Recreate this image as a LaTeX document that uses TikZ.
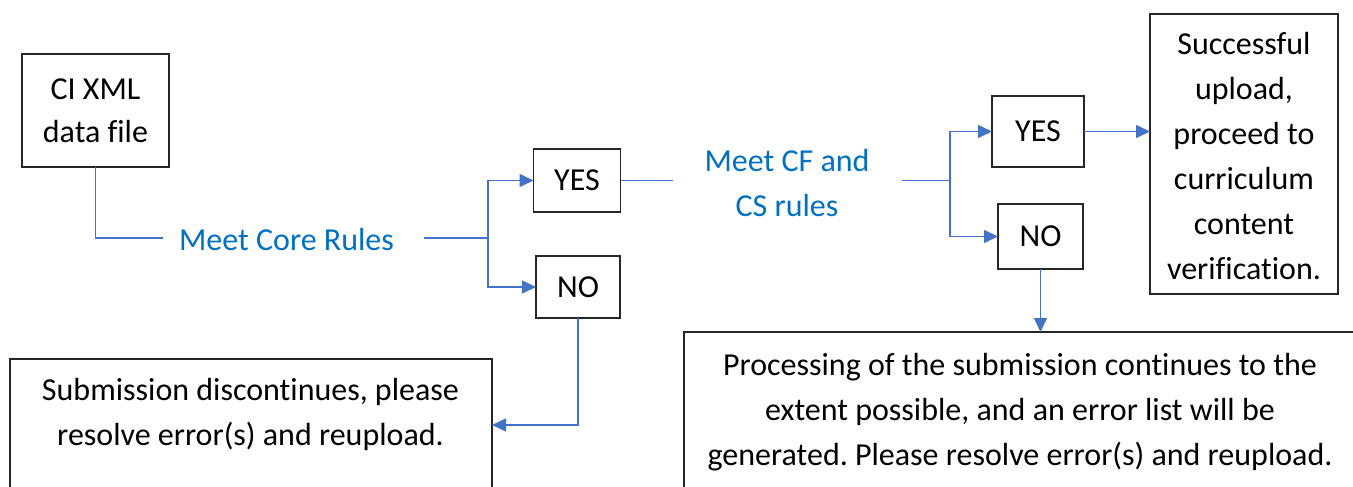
\documentclass[tikz,border=0pt]{standalone}
\usepackage{fontspec}
\setmainfont{Carlito}[Ligatures=NoCommon]
\usetikzlibrary{arrows.meta}
\definecolor{lblblue}{HTML}{0070C0}
\definecolor{lineblue}{HTML}{4472C4}
\definecolor{boxline}{HTML}{262626}
\frenchspacing
\tikzset{
  bigfont/.style={font=\fontsize{32}{45}\selectfont},
  box/.style={draw=boxline, line width=1.3pt, inner sep=0pt, outer sep=0pt, align=center, bigfont},
  txt/.style={inner sep=0pt, align=center, bigfont},
  lbl/.style={txt, text=lblblue},
  conn/.style={draw=lineblue, line width=1.5pt},
  arr/.style={conn, -{Triangle[length=14pt,width=13pt]}}
}
\begin{document}
\begin{tikzpicture}[x=1pt,y=-1pt]
\useasboundingbox (0,0) rectangle (1353,487);
\clip (0,0) rectangle (1353,487);
\fill[white] (0,0) rectangle (1353,487);
% boxes
\node[box, minimum width=147pt, minimum height=113pt, font=\fontsize{32}{43}\selectfont] (ci) at (95.5,110.5) {CI XML\\data file};
\node[box, minimum width=87pt, minimum height=63pt] (yes1) at (577,180.5) {YES};
\node[box, minimum width=84pt, minimum height=62pt] (no1) at (578,287) {NO};
\node[box, minimum width=92pt, minimum height=71pt] (yes2) at (1038,131.5) {YES};
\node[box, minimum width=85pt, minimum height=65pt] (no2) at (1040.5,236.5) {NO};
\node[box, minimum width=188pt, minimum height=280pt] (succ) at (1244,154) {};
\node[box, minimum width=692pt, minimum height=176pt] (procbox) at (1030,420) {};
\node[box, minimum width=482pt, minimum height=132pt] (subbox) at (251,425) {};
% texts
\node[txt] (succtxt) at (1244,156) {Successful\\upload,\\proceed to\\curriculum\\content\\verification.};
\node[txt] (proctxt) at (1020,412) {Processing of the submission continues to the\\extent possible, and an error list will be\\generated. Please resolve error(s) and reupload.};
\node[txt] (subtxt) at (250.5,414.5) {Submission discontinues, please\\resolve error(s) and reupload.};
\node[lbl] (m1) at (286.5,240) {Meet Core Rules};
\node[lbl] (m2) at (787,183) {Meet CF and\\CS rules};
% coordinates
\coordinate (c1a) at (163,238);
\coordinate (c1b) at (424,238);
\coordinate (j1) at (488,238);
\coordinate (c2a) at (673,180.5);
\coordinate (c2b) at (902,180.5);
\coordinate (j2) at (950,180.5);
% connectors
\draw[conn] (ci.south) |- (c1a);
\draw[conn] (c1b) -- (j1);
\draw[arr] (j1) |- (yes1.west);
\draw[arr] (j1) |- (no1.west);
\draw[conn] (yes1.east) -- (c2a);
\draw[conn] (c2b) -- (j2);
\draw[arr] (j2) |- (yes2.west);
\draw[arr] (j2) |- (no2.west);
\draw[arr] (yes2.east) -- (succ.west |- yes2.east);
\draw[arr] (no2.south) -- (no2.south |- procbox.north);
\draw[arr] (no1.south) |- (subbox.east);
\end{tikzpicture}
\end{document}
